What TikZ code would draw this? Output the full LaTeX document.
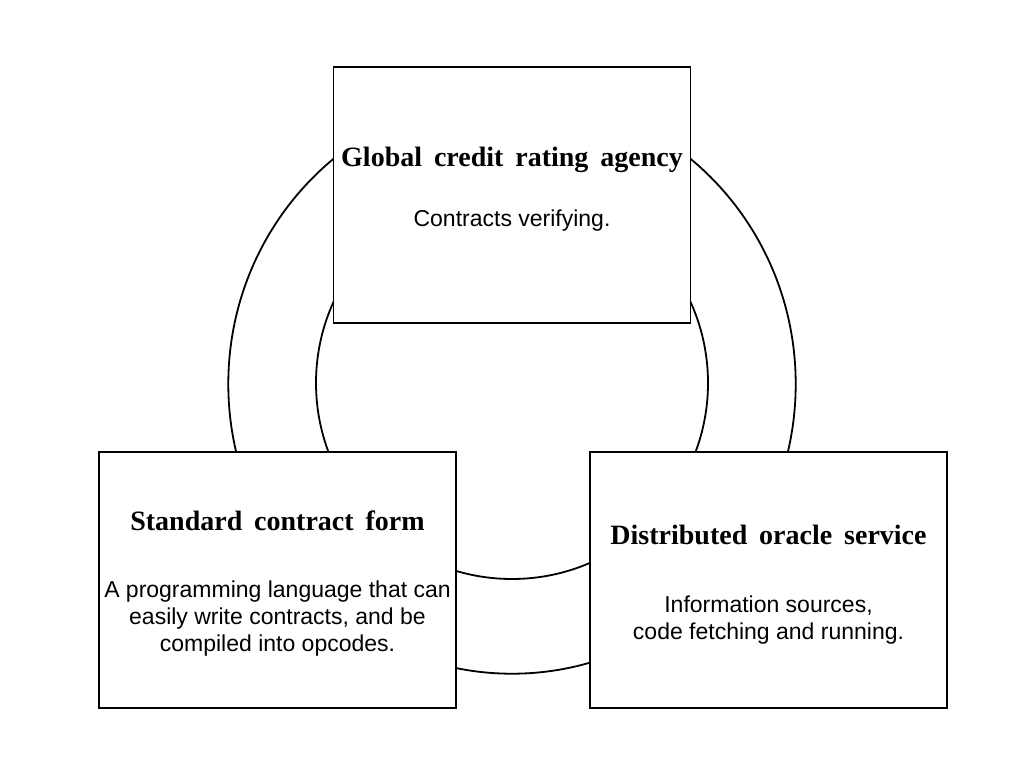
\documentclass[tikz,border=0pt]{standalone}
\usepackage{fontspec}
\setmainfont{Liberation Serif}
\newfontfamily\titlefont[WordSpace=1.7]{Liberation Serif}
\newfontfamily\bodyfont{Liberation Sans}
\begin{document}
\begin{tikzpicture}[x=1pt,y=-1pt,
  ring/.style={line width=1.8pt},
  card/.style={draw, line width=1.8pt, fill=white, minimum width=357pt, minimum height=256pt, inner sep=0pt},
  ttl/.style={anchor=base, inner sep=0pt, font=\titlefont\bfseries\fontsize{28}{32}\selectfont},
  txt/.style={anchor=base, inner sep=0pt, font=\bodyfont\fontsize{23}{27}\selectfont}]
\fill[white] (0,0) rectangle (1024,768);
\useasboundingbox (0,0) rectangle (1024,768);
% rings
\draw[ring] (512,384) ellipse [x radius=283.7, y radius=289.7];
\draw[ring] (512,383) circle [radius=196];
% boxes
\node[card] (top) at (512,195) {};
\node[card] (left) at (277.5,580) {};
\node[card] (right) at (768.5,580) {};
% texts
\node[ttl] (topT) at (512,166) {Global credit rating agency};
\node[txt] (topB) at (512,226) {Contracts verifying.};
\node[ttl] (leftT) at (277.5,530.7) {Standard contract form};
\node[txt] (leftB1) at (277.5,597.7) {A programming language that can};
\node[txt] (leftB2) at (277.5,624.5) {easily write contracts, and be};
\node[txt] (leftB3) at (277.5,651.5) {compiled into opcodes.};
\node[ttl] (rightT) at (768.5,544.3) {Distributed oracle service};
\node[txt] (rightB1) at (768.5,612.7) {Information sources,};
\node[txt] (rightB2) at (768.5,639.5) {code fetching and running.};
\end{tikzpicture}
\end{document}
